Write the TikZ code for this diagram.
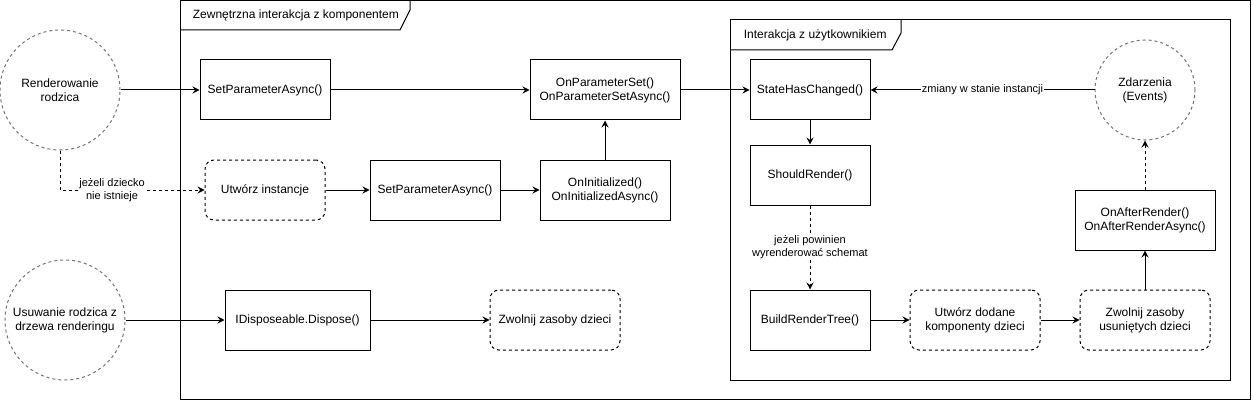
\documentclass[tikz,border=0pt]{standalone}
\usepackage{fontspec}
\setmainfont{Liberation Sans}
\usepackage{tikz}
\usetikzlibrary{arrows.meta,positioning}
\tikzset{>/.tip={Stealth[length=7pt,width=7pt,inset=2.5pt]}}
\tikzset{box/.style={draw,line width=1pt,minimum height=60pt,align=center,inner sep=2pt}}
\tikzset{soft/.style={box,rounded corners=9pt,dash pattern=on 3pt off 3pt}}
\tikzset{event/.style={draw=faint,circle,line width=1pt,dash pattern=on 3pt off 3pt,align=center,inner sep=0pt}}
\tikzset{cond/.style={fill=white,inner sep=1pt,align=center,font=\fontsize{11}{13}\selectfont}}
\colorlet{faint}{black!55}

\begin{document}
\begin{tikzpicture}[x=1pt,y=-1pt,font=\fontsize{12}{14}\selectfont,line width=1pt]
        \useasboundingbox (0,0) rectangle (1252,401);
        \draw (180,1) rectangle (1250,399.5);
        \draw (180,30) -- (400,30) -- (410,10) -- (410,1);
        \node(ext)[anchor=west] at (189,15){Zewnętrzna interakcja z komponentem};
        \draw (730,20) rectangle (1230,380);
        \draw (730,50) -- (892,50) -- (901,33) -- (901,20);
        \node(usr)[anchor=west] at (740,35){Interakcja z użytkownikiem};
        \node(RR)[event,minimum size=120pt] at (60,90){Renderowanie\\rodzica};
        \node(URZ)[event,minimum size=120pt] at (65,320){Usuwanie rodzica z\\drzewa renderingu};
        \node(ZD)[event,minimum size=100pt] at (1145,90){Zdarzenia\\(Events)};
        \node(SPA)[box,minimum width=130pt] at (265,90){SetParameterAsync()};
        \node(OPS)[box,minimum width=150pt] at (605,90){OnParameterSet()\\OnParameterSetAsync()};
        \node(SHC)[box,minimum width=120pt] at (810,90){StateHasChanged()};
        \node(UI)[soft,minimum width=120pt] at (265,190){Utwórz instancje};
        \node(SPAb)[box,minimum width=130pt] at (435,190){SetParameterAsync()};
        \node(OI)[box,minimum width=130pt] at (605,190){OnInitialized()\\OnInitializedAsync()};
        \node(SR)[box,minimum width=120pt] at (810,175){ShouldRender()};
        \node(OAR)[box,minimum width=140pt] at (1145,220){OnAfterRender()\\OnAfterRenderAsync()};
        \node(IDD)[box,minimum width=145pt] at (297.5,320){IDisposeable.Dispose()};
        \node(ZZD)[soft,minimum width=130pt] at (555,320){Zwolnij zasoby dzieci};
        \node(BRT)[box,minimum width=120pt] at (810,320){BuildRenderTree()};
        \node(UDK)[soft,minimum width=130pt] at (975,320){Utwórz dodane\\komponenty dzieci};
        \node(ZZU)[soft,minimum width=130pt] at (1145,320){Zwolnij zasoby\\usuniętych dzieci};
        \draw[->]
        (RR) edge (SPA)
        (SPA) edge (OPS)
        (OPS) edge (SHC)
        (UI) edge (SPAb)
        (SPAb) edge (OI)
        (OI) edge (OPS)
        (SHC) edge (SR)
        (ZD) edge node[cond]{zmiany w stanie instancji} (SHC)
        (BRT) edge (UDK)
        (UDK) edge (ZZU)
        (ZZU) edge (OAR)
        (URZ) edge (IDD)
        (IDD) edge (ZZD);
        \draw[->,dash pattern=on 3pt off 3pt]
        (RR.south) |- node[cond,pos=0.68]{jeżeli dziecko\\nie istnieje} (UI.west);
        \draw[->,dash pattern=on 3pt off 3pt]
        (SR) edge node[cond]{jeżeli powinien\\wyrenderować schemat} (BRT)
        (OAR) edge (ZD);
      \end{tikzpicture}
\end{document}
